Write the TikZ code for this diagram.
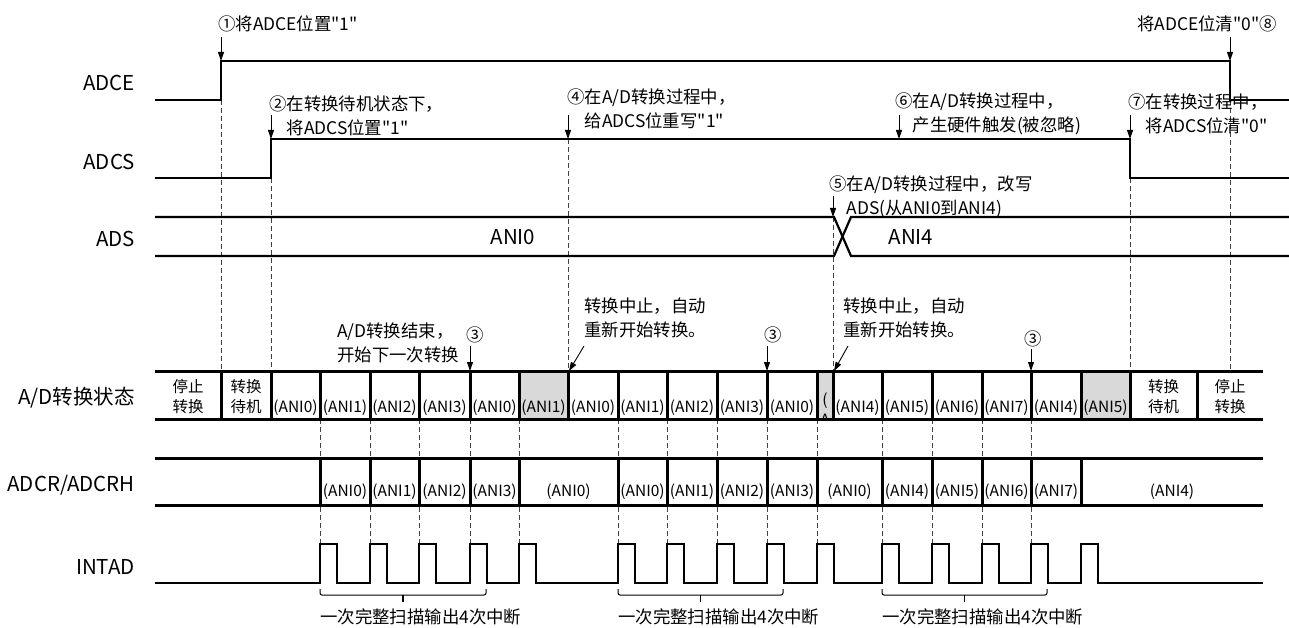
\documentclass[tikz,border=0pt]{standalone}
\usepackage{fontspec}
\newfontfamily\cjk{Noto Sans CJK SC}
\usetikzlibrary{arrows.meta}
\newcommand\rowf{\cjk\fontsize{20.5}{24}\selectfont}
\newcommand\annf{\cjk\fontsize{17.4}{24}\selectfont}
\newcommand\cellf{\cjk\fontsize{15.5}{20}\selectfont}
\begin{document}
\begin{tikzpicture}[x=1pt,y=-1pt,
  sig/.style={line width=2.6pt, line join=miter},
  adsl/.style={line width=2.2pt},
  vdash/.style={black!75, line width=0.9pt, dash pattern=on 5pt off 3pt},
  cellline/.style={line width=3pt},
  arr/.style={line width=0.9pt, -{Triangle[length=9pt,width=6pt]}},
  rowlab/.style={font=\rowf, anchor=east, inner sep=0pt},
  ann/.style={font=\annf, anchor=west, align=left, inner sep=0pt},
  celltxt/.style={font=\cellf, inner sep=0pt, align=center},
  grayc/.style={fill=black!15},
  bracel/.style={line width=1pt, rounded corners=2pt},
  ]
\useasboundingbox (0,0) rectangle (1289,628);

% ---------- row labels
\node[rowlab] (lADCE) at (135,83) {ADCE};
\node[rowlab] (lADCS) at (135,162) {ADCS};
\node[rowlab] (lADS) at (135,239) {ADS};
\node[rowlab] (lST) at (135,398) {A/D转换状态};
\node[rowlab] (lADCR) at (135,485) {ADCR/ADCRH};
\node[rowlab] (lINT) at (135,567) {INTAD};

% ---------- dashed guide lines
\foreach \x/\ya in {221/100,271/178,568/139,833/217,1130/178,1230/100}
  \draw[vdash] (\x,\ya) -- (\x,371);
\foreach \x in {320,370,419,470,519,618,667,717,767,817,882,932,982,1031}
  \draw[vdash] (\x,419) -- (\x,544);

% ---------- ADCE / ADCS
\draw[sig] (155,100) -- (221,100) -- (221,61) -- (1230,61) -- (1230,100) -- (1289,100);
\draw[sig] (155,178) -- (271,178) -- (271,139) -- (1130,139) -- (1130,178) -- (1289,178);

% ---------- ADS
\draw[adsl] (155,217) -- (834,217) -- (851,256) -- (1289,256);
\draw[adsl] (155,256) -- (834,256) -- (851,217) -- (1289,217);
\node[font=\rowf, inner sep=0pt] (vANI0) at (513,237) {ANI0};
\node[font=\rowf, inner sep=0pt] (vANI4) at (911,237) {ANI4};

% ---------- A/D state row
\fill[grayc] (519,371) rectangle (568,419);
\fill[grayc] (817,371) rectangle (833,419);
\fill[grayc] (1081,371) rectangle (1130,419);
\draw[cellline] (155,371) -- (1263,371);
\draw[cellline] (155,419) -- (1263,419);
\foreach \x in {221,271,320,370,419,470,519,568,618,667,717,767,817,833,882,932,982,1031,1081,1130,1197}
  \draw[cellline] (\x,371) -- (\x,419);
\node[celltxt] (s1) at (188,397) {停止\\转换};
\node[celltxt] (s2) at (246,397) {转换\\待机};
\node[celltxt] (s21) at (1163.5,397) {转换\\待机};
\node[celltxt] (s22) at (1230,397) {停止\\转换};
\foreach \n/\a/\b/\t in {3/271/320/(ANI0),4/320/370/(ANI1),5/370/419/(ANI2),6/419/470/(ANI3),
  7/470/519/(ANI0),8/519/568/(ANI1),9/568/618/(ANI0),10/618/667/(ANI1),11/667/717/(ANI2),
  12/717/767/(ANI3),13/767/817/(ANI0),15/833/882/(ANI4),16/882/932/(ANI5),17/932/982/(ANI6),
  18/982/1031/(ANI7),19/1031/1081/(ANI4),20/1081/1130/(ANI5)}
  \node[celltxt] (s\n) at ({(\a+\b)/2},408) {\t};
\begin{scope}
  \clip (818.5,372.5) rectangle (831.5,417.5);
  \node[celltxt] (s14a) at (825,401) {(};
  \node[celltxt] (s14b) at (825,419.5) {A};
\end{scope}

% ---------- ADCR/ADCRH
\draw[cellline] (155,458) -- (1263,458);
\draw[cellline] (155,505) -- (1263,505);
\foreach \x in {320,370,419,470,519,618,667,717,767,817,882,932,982,1031,1081}
  \draw[cellline] (\x,458) -- (\x,505);
\foreach \n/\a/\b/\t in {1/320/370/(ANI0),2/370/419/(ANI1),3/419/470/(ANI2),4/470/519/(ANI3),
  5/519/618/(ANI0),6/618/667/(ANI0),7/667/717/(ANI1),8/717/767/(ANI2),9/767/817/(ANI3),
  10/817/882/(ANI0),11/882/932/(ANI4),12/932/982/(ANI5),13/982/1031/(ANI6),14/1031/1081/(ANI7),
  15/1081/1263/(ANI4)}
  \node[celltxt] (r\n) at ({(\a+\b)/2},492) {\t};

% ---------- INTAD
\draw[sig] (155,583)
  foreach \x in {320,370,419,470,519,618,667,717,767,817,882,932,982,1031,1081}
  { -- (\x,583) -- (\x,544) -- (\x+17,544) -- (\x+17,583) } -- (1263,583);

% ---------- braces
\foreach \a/\b/\n in {320/486/1,618/783/2,882/1047/3}{
  \draw[bracel] (\a,589) -- (\a,595) -- (\b,595) -- (\b,589);
  \draw[line width=1.6pt] ({(\a+\b)/2},595) -- ({(\a+\b)/2},602);
  \node[ann] (b\n) at (\a,617) {一次完整扫描输出4次中断};
}

% ---------- annotations
\node[ann] (t1) at (218,24) {①将ADCE位置"1"};
\coordinate (t1s) at (221,37); \coordinate (t1e) at (221,61);
\draw[arr] (t1s) -- (t1e);

\node[ann, anchor=east] (t8) at (1277,24) {将ADCE位清"0"⑧};
\coordinate (t8s) at (1230,37); \coordinate (t8e) at (1230,61);
\draw[arr] (t8s) -- (t8e);

\node[ann] (t2) at (269,115.5) {②在转换待机状态下，\\\phantom{②}将ADCS位置"1"};
\coordinate (t2s) at (271,115); \coordinate (t2e) at (271,139);
\draw[arr] (t2s) -- (t2e);

\node[ann] (t4) at (567,109) {④在A/D转换过程中，\\\phantom{④}给ADCS位重写"1"};
\coordinate (t4s) at (568,115); \coordinate (t4e) at (568,139);
\draw[arr] (t4s) -- (t4e);

\node[ann] (t6) at (895,114) {⑥在A/D转换过程中，\\\phantom{⑥}产生硬件触发(被忽略)};
\coordinate (t6s) at (899,115); \coordinate (t6e) at (899,139);
\draw[arr] (t6s) -- (t6e);

\node[ann] (t7) at (1128,114) {⑦在转换过程中，\\\phantom{⑦}将ADCS位清"0"};
\coordinate (t7s) at (1130,115); \coordinate (t7e) at (1130,139);
\draw[arr] (t7s) -- (t7e);

\node[ann] (t5) at (829,197) {⑤在A/D转换过程中，改写\\\phantom{⑤}ADS(从ANI0到ANI4)};
\coordinate (t5s) at (833,196); \coordinate (t5e) at (833,217);
\draw[arr] (t5s) -- (t5e);

\node[ann] (t9) at (337,343) {A/D转换结束，\\开始下一次转换};
\node[font=\annf, inner sep=0pt] (c3a) at (475,335) {③};
\coordinate (c3as) at (470,346); \coordinate (c3ae) at (470,371);
\draw[arr] (c3as) -- (c3ae);

\node[ann] (t10) at (584,318) {转换中止，自动\\重新开始转换。};
\coordinate (t10s) at (584,346); \coordinate (t10e) at (569,371);
\draw[arr] (t10s) -- (t10e);

\node[font=\annf, inner sep=0pt] (c3b) at (773,335) {③};
\coordinate (c3bs) at (767,346); \coordinate (c3be) at (767,371);
\draw[arr] (c3bs) -- (c3be);

\node[ann] (t11) at (843,318) {转换中止，自动\\重新开始转换。};
\coordinate (t11s) at (848,346); \coordinate (t11e) at (834,371);
\draw[arr] (t11s) -- (t11e);

\node[font=\annf, inner sep=0pt] (c3c) at (1033,339) {③};
\coordinate (c3cs) at (1031,349); \coordinate (c3ce) at (1031,371);
\draw[arr] (c3cs) -- (c3ce);
\end{tikzpicture}
\end{document}
